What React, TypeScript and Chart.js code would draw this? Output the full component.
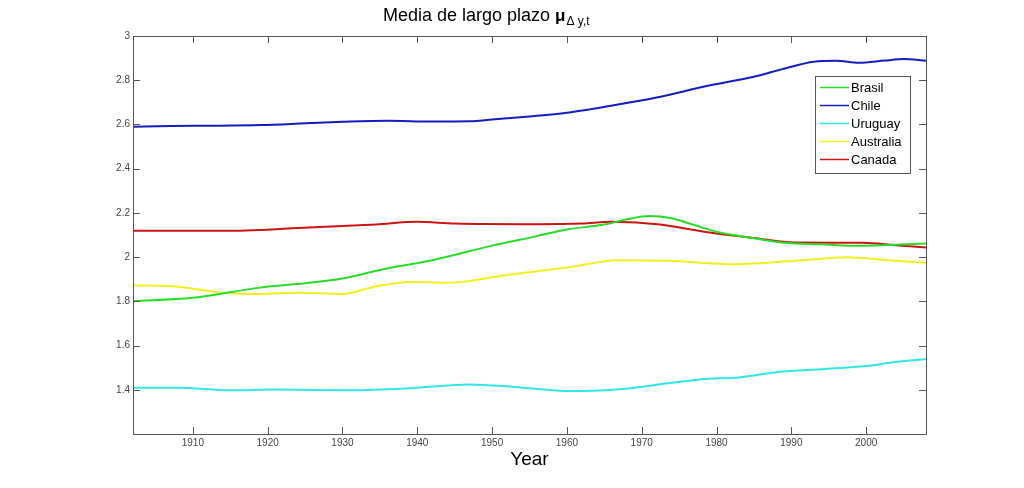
import React, { useEffect, useRef } from "react";
import { Chart, registerables } from "chart.js";

Chart.register(...registerables);

const seriesNames = ["Brasil", "Chile", "Uruguay", "Australia", "Canada"];
const seriesColors = ["rgb(40,220,40)", "rgb(20,30,190)", "rgb(50,230,230)", "rgb(240,240,30)", "rgb(205,20,20)"];

const brasilYears = [1902, 1910, 1919, 1925, 1930, 1935, 1942, 1950, 1956, 1960, 1965, 1968, 1971, 1974, 1977, 1980, 1985, 1989, 1994, 1999, 2003, 2008];
const brasilValues = [1.801, 1.816, 1.862, 1.882, 1.903, 1.942, 1.986, 2.052, 2.095, 2.125, 2.147, 2.171, 2.186, 2.176, 2.145, 2.115, 2.085, 2.065, 2.058, 2.051, 2.055, 2.062];

const chileYears = [1902, 1907, 1913, 1919, 1925, 1930, 1936, 1942, 1947, 1950, 1955, 1960, 1967, 1972, 1979, 1985, 1989, 1993, 1996, 1999, 2002.5, 2005, 2008];
const chileValues = [2.59, 2.593, 2.594, 2.597, 2.605, 2.612, 2.617, 2.613, 2.614, 2.622, 2.636, 2.653, 2.691, 2.722, 2.776, 2.816, 2.852, 2.884, 2.888, 2.879, 2.889, 2.896, 2.888];

const uruguayYears = [1902, 1908, 1915, 1921, 1931, 1939, 1947, 1953, 1960.5, 1966.5, 1973.5, 1978, 1983, 1988.5, 1994, 2000, 2004, 2008];
const uruguayValues = [1.409, 1.409, 1.398, 1.401, 1.398, 1.407, 1.424, 1.413, 1.394, 1.401, 1.429, 1.448, 1.456, 1.481, 1.493, 1.507, 1.526, 1.538];

const australiaYears = [1902, 1908, 1914, 1919, 1924, 1930, 1934, 1939, 1944, 1952, 1960, 1967, 1973.5, 1982.5, 1990.5, 1997.5, 2003, 2008];
const australiaValues = [1.873, 1.866, 1.839, 1.833, 1.839, 1.833, 1.864, 1.888, 1.884, 1.919, 1.953, 1.986, 1.983, 1.968, 1.983, 1.999, 1.986, 1.974];

const canadaYears = [1902, 1915, 1925.5, 1934.5, 1940, 1945, 1956, 1962, 1966, 1972.5, 1976, 1980, 1985, 1990.5, 1999.5, 2004, 2008];
const canadaValues = [2.119, 2.119, 2.134, 2.148, 2.16, 2.152, 2.149, 2.152, 2.16, 2.148, 2.128, 2.107, 2.087, 2.066, 2.065, 2.054, 2.044];

const xTickValues = [1910, 1920, 1930, 1940, 1950, 1960, 1970, 1980, 1990, 2000];
const yTickValues = [1.4, 1.6, 1.8, 2.0, 2.2, 2.4, 2.6, 2.8, 3.0];

const allYears = [brasilYears, chileYears, uruguayYears, australiaYears, canadaYears];
const allValues = [brasilValues, chileValues, uruguayValues, australiaValues, canadaValues];

const FONT = '"Liberation Sans", Arial, Helvetica, sans-serif';

const decorPlugin = {
  id: "decor",
  afterDraw(chart: any) {
    const ctx = chart.ctx;
    const { left, right, top, bottom } = chart.chartArea;
    const xs = chart.scales.x;
    const ys = chart.scales.y;
    ctx.save();
    ctx.strokeStyle = "#555";
    ctx.lineWidth = 1;
    ctx.strokeRect(Math.round(left) + 0.5, Math.round(top) + 0.5, Math.round(right - left), Math.round(bottom - top));
    const tl = 7;
    ctx.beginPath();
    xTickValues.forEach((v) => {
      const px = Math.round(xs.getPixelForValue(v)) + 0.5;
      ctx.moveTo(px, bottom);
      ctx.lineTo(px, bottom - tl);
      ctx.moveTo(px, top);
      ctx.lineTo(px, top + tl);
    });
    yTickValues.forEach((v) => {
      const py = Math.round(ys.getPixelForValue(v)) + 0.5;
      ctx.moveTo(left, py);
      ctx.lineTo(left + tl, py);
      ctx.moveTo(right, py);
      ctx.lineTo(right - tl, py);
    });
    ctx.stroke();

    // title
    ctx.fillStyle = "#000";
    ctx.textBaseline = "alphabetic";
    ctx.textAlign = "left";
    ctx.font = `18px ${FONT}`;
    const main = "Media de largo plazo ";
    let tx = 383;
    ctx.fillText(main, tx, 21);
    tx += ctx.measureText(main).width;
    ctx.font = `bold 17px ${FONT}`;
    ctx.fillText("μ", tx, 21);
    tx += ctx.measureText("μ").width + 1;
    ctx.font = `12px ${FONT}`;
    ctx.fillText("Δ y,t", tx, 25);

    // x axis label
    ctx.font = `19px ${FONT}`;
    ctx.textAlign = "center";
    ctx.fillText("Year", (left + right) / 2, 465);

    // legend
    const lx = 815, ly = 76, lw = 95, lh = 97;
    ctx.fillStyle = "#fff";
    ctx.fillRect(lx, ly, lw, lh);
    ctx.strokeStyle = "#555";
    ctx.strokeRect(lx + 0.5, ly + 0.5, lw, lh);
    ctx.font = `13px ${FONT}`;
    ctx.textAlign = "left";
    ctx.textBaseline = "middle";
    chart.data.datasets.forEach((ds: any, i: number) => {
      const cy = 87.5 + i * 18;
      ctx.strokeStyle = ds.borderColor;
      ctx.lineWidth = 1.5;
      ctx.beginPath();
      ctx.moveTo(820, cy);
      ctx.lineTo(849, cy);
      ctx.stroke();
      ctx.fillStyle = "#000";
      ctx.fillText(ds.label, 851, cy + 0.5);
    });
    ctx.restore();
  },
};

export default function App() {
  const ref = useRef<HTMLCanvasElement>(null);
  useEffect(() => {
    if (!ref.current) return;
    const datasets = seriesNames.map((name, i) => ({
      label: name,
      data: allYears[i].map((yr, j) => ({ x: yr, y: allValues[i][j] })),
      borderColor: seriesColors[i],
      backgroundColor: seriesColors[i],
      borderWidth: 2,
      pointRadius: 0,
      tension: 0.4,
      cubicInterpolationMode: "monotone" as const,
      fill: false,
    }));
    const chart = new Chart(ref.current, {
      type: "line",
      data: { datasets },
      options: {
        animation: false,
        responsive: false,
        maintainAspectRatio: false,
        layout: { padding: { top: 36, right: 98, bottom: 0, left: 0 } },
        plugins: { legend: { display: false }, title: { display: false }, tooltip: { enabled: false } },
        scales: {
          x: {
            type: "linear",
            min: 1902,
            max: 2008,
            grid: { display: false, drawTicks: false, tickLength: 0 },
            border: { display: false },
            afterBuildTicks: (s: any) => {
              s.ticks = xTickValues.map((v) => ({ value: v }));
            },
            afterFit: (s: any) => {
              s.height = 54;
            },
            ticks: {
              color: "#444",
              font: { family: FONT, size: 10 },
              padding: 3,
              maxRotation: 0,
              callback: (v: any) => String(v),
            },
          },
          y: {
            type: "linear",
            min: 1.2,
            max: 3,
            grid: { display: false, drawTicks: false, tickLength: 0 },
            border: { display: false },
            afterBuildTicks: (s: any) => {
              s.ticks = yTickValues.map((v) => ({ value: v }));
            },
            afterFit: (s: any) => {
              s.width = 133;
            },
            ticks: {
              color: "#444",
              font: { family: FONT, size: 10 },
              padding: 3,
              callback: (v: any) => String(Math.round(v * 10) / 10),
            },
          },
        },
      },
      plugins: [decorPlugin],
    });
    return () => chart.destroy();
  }, []);
  return (
    <div style={{ position: "fixed", left: 0, top: 0, width: 1024, height: 488, background: "#fff" }}>
      <canvas ref={ref} width={1024} height={488} style={{ width: 1024, height: 488 }} />
    </div>
  );
}
